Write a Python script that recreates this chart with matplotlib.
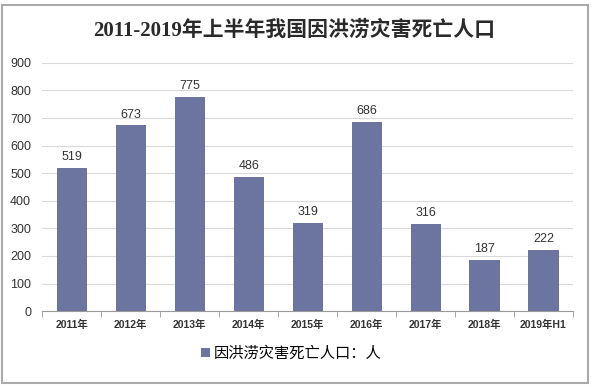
import matplotlib.pyplot as plt
from matplotlib.patches import Rectangle

plt.rcParams['font.family'] = ['Liberation Sans', 'Noto Sans CJK SC']

years = ['2011年', '2012年', '2013年', '2014年', '2015年', '2016年', '2017年', '2018年', '2019年H1']
deaths = [519, 673, 775, 486, 319, 686, 316, 187, 222]
yticks = [0, 100, 200, 300, 400, 500, 600, 700, 800, 900]

bar_color = '#6B75A0'

fig = plt.figure(figsize=(5.95, 3.88), dpi=100)
ax = fig.add_axes([0.071, 0.198, 0.892, 0.64])

x = range(len(years))
bars = ax.bar(x, deaths, width=0.51, color=bar_color, label='因洪涝灾害死亡人口：人', zorder=3)

for xi, v in zip(x, deaths):
    ax.text(xi, v + 18, str(v), ha='center', va='bottom', fontsize=9, color='#333333')

ax.set_xlim(-0.5, len(years) - 0.5)
ax.set_ylim(0, 900)
ax.set_yticks(yticks)
ax.tick_params(axis='y', length=0, labelsize=9, colors='#333333', pad=8)
ax.yaxis.grid(True, color='#d9d9d9', linewidth=0.8, zorder=0)

ax.set_xticks(list(x))
ax.set_xticklabels(years, fontsize=7.5, fontweight='bold', color='#333333')
ax.tick_params(axis='x', length=0, pad=6)
# category boundary ticks
ax.set_xticks([i - 0.5 for i in range(len(years) + 1)], minor=True)
ax.tick_params(axis='x', which='minor', length=4, color='#999999', direction='out')

for s in ['top', 'right', 'left']:
    ax.spines[s].set_visible(False)
ax.spines['bottom'].set_color('#999999')

fig.text(0.495, 0.922, '2011-2019年上半年我国因洪涝灾害死亡人口', ha='center', va='center',
         fontsize=15, fontweight='bold', color='#2a2a2a',
         family=['Liberation Serif', 'Noto Sans CJK SC'])

fig.legend(handles=[bars], loc='center', bbox_to_anchor=(0.49, 0.088), frameon=False,
           fontsize=11, handlelength=0.55, handleheight=0.55, handletextpad=0.3)

fig.patches.append(Rectangle((0.004, 0.013), 0.984, 0.974, transform=fig.transFigure,
                             fill=False, edgecolor='#aaaaaa', linewidth=1.5))

fig.savefig('out.png', dpi=100)
